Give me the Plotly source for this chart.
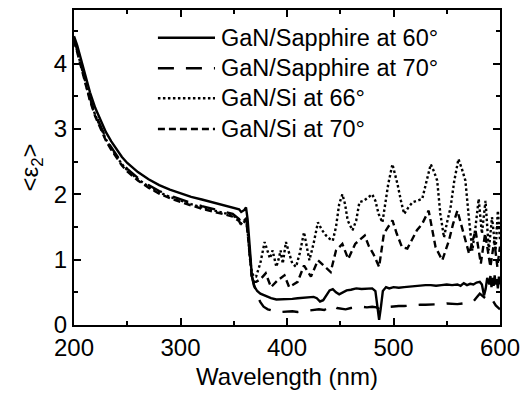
import plotly.graph_objects as go

# Absorption-edge region shared by all samples (nm)
wl_edge = [200, 203, 206, 210, 215, 220, 225, 230, 235, 240, 245, 250, 260, 270,
           280, 290, 300, 310, 320, 330, 340, 349, 355, 357, 360, 361.5, 363, 365, 367, 369]

sap60_edge = [4.42, 4.28, 4.10, 3.86, 3.56, 3.32, 3.12, 2.95, 2.81, 2.68, 2.57, 2.48, 2.34, 2.23,
              2.14, 2.07, 2.01, 1.96, 1.92, 1.88, 1.84, 1.80, 1.77, 1.73, 1.76, 1.80, 1.62, 1.20, 0.75, 0.60]

# GaN/Sapphire at 60 deg, below gap
sap60_wl = [372, 375, 380, 385, 390, 395, 400, 405, 410, 415, 420, 425, 428, 431, 434, 437, 440,
            443, 446, 449, 452, 456, 460, 465, 470, 475, 480, 483, 485, 486.5, 488, 490, 493, 496,
            500, 505, 510, 515, 520, 525, 530, 535, 540, 545, 550, 555, 560, 563, 566, 569, 572,
            575, 578, 581, 583, 585, 586.5, 588, 590, 591, 592, 593, 594, 595, 596, 597, 598, 599, 600]
sap60_v = [0.52, 0.48, 0.44, 0.41, 0.39, 0.39, 0.40, 0.40, 0.41, 0.42, 0.42, 0.43, 0.41, 0.36,
           0.38, 0.46, 0.53, 0.55, 0.50, 0.47, 0.50, 0.53, 0.54, 0.56, 0.55, 0.56, 0.56, 0.52,
           0.30, 0.08, 0.25, 0.52, 0.58, 0.56, 0.58, 0.57, 0.58, 0.59, 0.60, 0.60, 0.61, 0.61,
           0.60, 0.61, 0.62, 0.61, 0.62, 0.60, 0.64, 0.61, 0.63, 0.62, 0.65, 0.66, 0.62, 0.45,
           0.55, 0.72, 0.62, 0.75, 0.58, 0.72, 0.60, 0.76, 0.62, 0.70, 0.56, 0.74, 0.62]

# GaN/Sapphire at 70 deg
sap70_edge = [4.38, 4.22, 4.03, 3.78, 3.47, 3.23, 3.03, 2.86, 2.72, 2.59, 2.48, 2.39, 2.25, 2.14,
              2.05, 1.98, 1.92, 1.87, 1.82, 1.78, 1.74, 1.70, 1.62, 1.56, 1.62, 1.66, 1.45, 1.10, 0.75, 0.62]
sap70_wl = [372, 375, 378, 382, 386, 390, 395, 400, 405, 410, 415, 420, 425, 430, 435, 440, 443,
            447, 450, 455, 460, 465, 470, 475, 480, 484, 487, 490, 495, 500, 505, 510, 515, 520,
            525, 530, 535, 540, 545, 550, 555, 560, 565, 570, 575, 578, 581, 584, 587, 590, 593, 596, 600]
sap70_v = [0.45, 0.35, 0.28, 0.24, 0.22, 0.20, 0.20, 0.21, 0.21, 0.20, 0.21, 0.22, 0.23, 0.24,
           0.23, 0.28, 0.30, 0.26, 0.25, 0.24, 0.26, 0.27, 0.28, 0.27, 0.28, 0.27, 0.24, 0.27,
           0.28, 0.28, 0.29, 0.29, 0.30, 0.30, 0.31, 0.31, 0.31, 0.32, 0.32, 0.33, 0.32, 0.32,
           0.33, 0.34, 0.36, 0.42, 0.48, 0.44, 0.40, 0.44, 0.38, 0.30, 0.24]

# GaN/Si at 66 deg
si66_edge = [4.37, 4.20, 4.01, 3.76, 3.45, 3.21, 3.01, 2.84, 2.70, 2.57, 2.46, 2.37, 2.23, 2.12,
             2.03, 1.96, 1.90, 1.85, 1.80, 1.76, 1.72, 1.68, 1.61, 1.55, 1.60, 1.64, 1.45, 1.05, 0.80, 0.74]
si66_wl = [371, 375, 379, 382, 384, 386.5, 388, 390, 392, 394, 396, 399, 402, 405, 408.5, 412,
           416, 418.5, 421, 425, 429, 433, 436.6, 440, 443, 446, 449, 452, 454.5, 457, 461.5,
           465, 468, 472, 476, 480, 483, 486, 489.6, 492, 495, 499, 503.7, 507, 510, 514, 518,
           522, 527, 531, 535, 538, 541, 544, 547.4, 550, 553.6, 557, 561, 564, 567.5, 571, 574,
           577, 580, 583, 586.4, 589.5, 592.5, 595.8, 598, 600]
si66_v = [0.74, 0.95, 1.27, 1.10, 1.02, 1.14, 1.05, 0.89, 1.00, 1.14, 0.94, 1.27, 1.10, 0.94,
          0.89, 1.10, 1.42, 1.20, 0.99, 1.25, 1.57, 1.45, 1.37, 1.32, 1.29, 1.50, 1.85, 2.00,
          1.85, 1.60, 1.45, 1.60, 1.88, 1.90, 1.95, 2.00, 1.90, 1.70, 1.57, 1.80, 2.15, 2.46,
          2.16, 1.90, 1.70, 1.80, 1.88, 1.90, 1.93, 2.20, 2.46, 2.35, 2.21, 1.70, 1.34, 1.55,
          1.80, 2.20, 2.54, 2.40, 2.21, 1.60, 1.14, 1.50, 1.93, 1.40, 1.90, 1.14, 1.65, 1.14,
          1.75, 1.30]

# GaN/Si at 70 deg
si70_edge = [4.36, 4.19, 3.99, 3.74, 3.43, 3.19, 2.99, 2.82, 2.68, 2.55, 2.44, 2.35, 2.21, 2.10,
             2.01, 1.94, 1.88, 1.83, 1.78, 1.74, 1.70, 1.66, 1.59, 1.53, 1.58, 1.62, 1.42, 1.00, 0.72, 0.66]
si70_wl = [371, 375, 380, 385, 391, 397.6, 402, 406, 410, 416, 422.5, 429, 434, 441, 446, 452,
           457.5, 464, 468, 473, 477, 481, 486.5, 491, 495, 499, 503, 508, 513, 518, 522, 527, 533,
           539.5, 545.8, 552, 556, 560, 566, 571, 577, 582, 586, 591, 594.6, 597.5, 600]
si70_v = [0.66, 0.70, 0.79, 0.58, 0.68, 0.76, 0.58, 0.62, 0.66, 0.91, 0.74, 0.99, 0.92, 0.81,
          1.14, 1.24, 1.01, 1.24, 1.30, 1.37, 1.20, 1.09, 0.89, 1.40, 1.50, 1.60, 1.40, 1.19,
          1.17, 1.34, 1.45, 1.55, 1.75, 1.19, 0.99, 1.29, 1.55, 1.75, 1.40, 1.09, 1.45, 0.94,
          1.40, 0.89, 1.29, 0.89, 1.20]

series_names = ["GaN/Sapphire at 60°", "GaN/Sapphire at 70°", "GaN/Si at 66°", "GaN/Si at 70°"]
series_dash = ["solid", "16px,12px", "2.5px,2.5px", "7px,4px"]
series_data = [
    (sap60_edge, sap60_wl, sap60_v),
    (sap70_edge, sap70_wl, sap70_v),
    (si66_edge, si66_wl, si66_v),
    (si70_edge, si70_wl, si70_v),
]

FONT = "Arial, Liberation Sans, sans-serif"
LINE_W = 2.4

fig = go.Figure()
for name, dash, (edge, wl, vals) in zip(series_names, series_dash, series_data):
    fig.add_trace(go.Scatter(
        x=wl_edge + wl, y=edge + vals, mode="lines", name=name, showlegend=False,
        line=dict(color="black", width=LINE_W, dash=dash),
    ))

# Key in the upper right: a line sample and a label per series (paper coordinates)
key_rows_y = [0.912, 0.815, 0.720, 0.622]
for name, dash, ky in zip(series_names, series_dash, key_rows_y):
    fig.add_shape(type="line", xref="paper", yref="paper",
                  x0=0.197, x1=0.331, y0=ky, y1=ky,
                  line=dict(color="black", width=LINE_W, dash=dash))
    fig.add_annotation(text=name, xref="paper", yref="paper", x=0.340, y=ky,
                       xanchor="left", yanchor="middle", showarrow=False,
                       font=dict(family=FONT, size=23.5, color="black"))

axis_common = dict(
    showline=True, linecolor="black", linewidth=2, mirror="allticks",
    ticks="inside", ticklen=7, tickwidth=2, tickcolor="black",
    showgrid=False, zeroline=False,
    tickfont=dict(family=FONT, size=24, color="black"),
)

fig.update_xaxes(
    range=[200, 600], tick0=200, dtick=100,
    minor=dict(ticks="inside", ticklen=4, tickwidth=2, tickcolor="black", dtick=50),
    title=dict(text="Wavelength (nm)", font=dict(family=FONT, size=24, color="black"), standoff=8),
    **axis_common,
)
fig.update_yaxes(
    range=[0, 4.82], tick0=0, dtick=1,
    minor=dict(ticks="inside", ticklen=4, tickwidth=2, tickcolor="black", dtick=0.5),
    title=dict(text="&lt;ε<sub>2</sub>&gt;", font=dict(family=FONT, size=24, color="black"), standoff=8),
    **axis_common,
)

fig.update_layout(
    width=529, height=397,
    margin=dict(l=74, r=29, t=8, b=72),
    paper_bgcolor="white", plot_bgcolor="white",
    font=dict(family=FONT, color="black"),
    showlegend=False,
)

fig.write_html("out.html")
